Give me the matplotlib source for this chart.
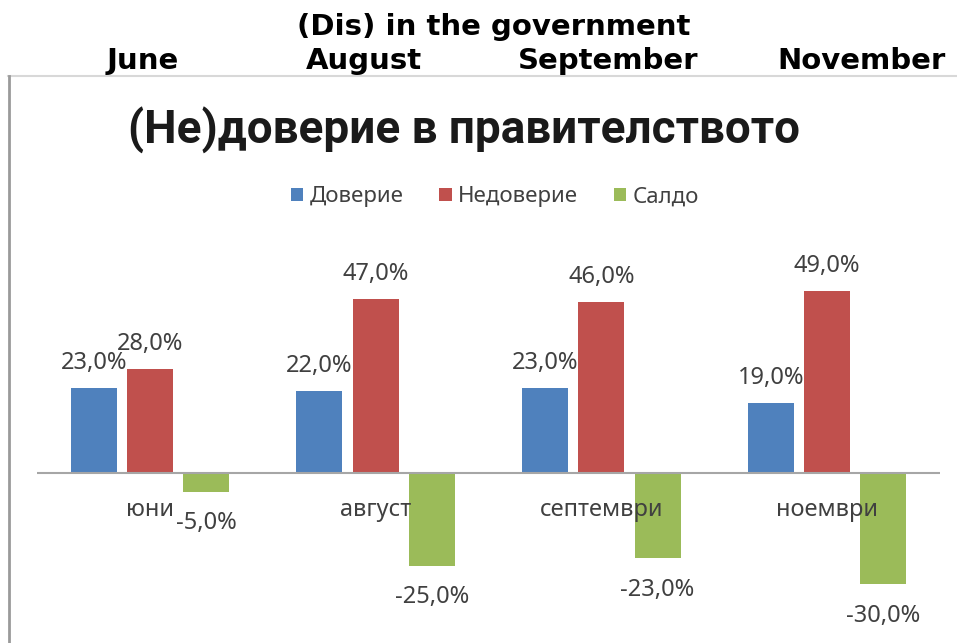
import matplotlib
matplotlib.use("Agg")
import matplotlib.pyplot as plt
import numpy as np
from matplotlib.lines import Line2D
from matplotlib.patches import Patch

# Данни за графиката
months_en = ["June", "August", "September", "November"]
months_bg = ["юни", "август", "септември", "ноември"]
series_names = ["Доверие", "Недоверие", "Салдо"]
trust = [23.0, 22.0, 23.0, 19.0]
distrust = [28.0, 47.0, 46.0, 49.0]
saldo = [-5.0, -25.0, -23.0, -30.0]

colors = ["#4F81BD", "#C0504D", "#9BBB59"]
plt.rcParams["font.family"] = ["Noto Sans", "DejaVu Sans"]

W, H = 957, 643
fig = plt.figure(figsize=(W / 100, H / 100), dpi=100)
fig.patch.set_facecolor("white")

def px(x, y):
    return x / W, 1 - y / H

# заглавие отгоре (английски)
head = dict(family="DejaVu Sans", fontweight="bold", fontsize=21, color="black",
            ha="center", va="center")
fig.text(*px(494, 27), "(Dis) in the government", **head)
for name, xc in zip(months_en, [143, 364, 608, 862]):
    fig.text(*px(xc, 61), name, **head)

# рамка на вградената картинка
fig.add_artist(Line2D([8 / W, 1], [1 - 76 / H] * 2, color="#d8d8d8", lw=1.5))
fig.add_artist(Line2D([9 / W] * 2, [0, 1 - 76 / H], color="#9a9a9a", lw=2))

fig.text(*px(464, 130), "(Не)доверие в правителството", fontsize=33,
         family=["Roboto", "DejaVu Sans"], fontweight="bold", color="#1a1a1a",
         ha="center", va="center")

# оси
ax = fig.add_axes([37 / W, 1 - 621.4 / H, (940 - 37) / W, 371 / H])
ax.set_xlim(-0.5, 3.5)
ax.set_ylim(-40, 60)
ax.axis("off")

x = np.arange(len(months_bg))
width = 0.204
step = 0.249
data = [trust, distrust, saldo]
for k, (vals, col) in enumerate(zip(data, colors)):
    pos = x + (k - 1) * step
    ax.bar(pos, vals, width, color=col, zorder=2)
    for xi, v in zip(pos, vals):
        off = 18 if v > 0 else -22.5
        ax.annotate(f"{v:.1f}%".replace(".", ","), (xi, v), xytext=(0, off),
                    textcoords="offset points", ha="center", va="center",
                    fontsize=17, color="#404040", zorder=4)

ax.axhline(0, color="#a6a6a6", lw=1.5, zorder=3)

for xi, name in zip(x, months_bg):
    ax.annotate(name, (xi, 0), xytext=(0, -26.5), textcoords="offset points",
                ha="center", va="center", fontsize=17, color="#404040", zorder=4)

handles = [Patch(facecolor=c, edgecolor="none") for c in colors]
fig.legend(handles, series_names, loc="center", bbox_to_anchor=px(495, 197),
           ncol=3, frameon=False, fontsize=16, handlelength=0.55,
           handleheight=0.55, handletextpad=0.3, columnspacing=1.6,
           labelcolor="#404040")

fig.savefig("out.png", dpi=100)
